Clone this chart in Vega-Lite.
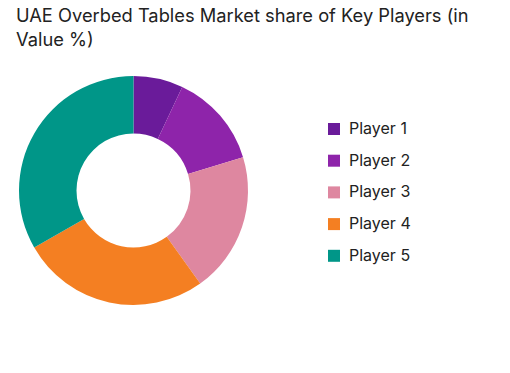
{
  "$schema": "https://vega.github.io/schema/vega-lite/v6.json",
  "autosize": "none",
  "width": 229,
  "height": 229,
  "padding": {"left": 19, "top": 76, "right": 262, "bottom": 68},
  "background": "white",
  "title": {
    "text": ["UAE Overbed Tables Market share of Key Players (in", "Value %)"],
    "anchor": "start",
    "frame": "group",
    "limit": 0,
    "fontSize": 18.3,
    "font": "Inter",
    "fontWeight": "normal",
    "color": "#222222",
    "lineHeight": 24,
    "offset": 26,
    "dx": -3
  },
  "data": {
    "values": [
      {"player": "Player 1", "share": 7},
      {"player": "Player 2", "share": 13.3},
      {"player": "Player 3", "share": 19.8},
      {"player": "Player 4", "share": 26.6},
      {"player": "Player 5", "share": 33.3}
    ]
  },
  "mark": {"type": "arc", "innerRadius": 57, "outerRadius": 114.5},
  "encoding": {
    "theta": {"field": "share", "type": "quantitative", "stack": true},
    "order": {"field": "player", "type": "ordinal"},
    "color": {
      "field": "player",
      "type": "nominal",
      "scale": {
        "domain": ["Player 1", "Player 2", "Player 3", "Player 4", "Player 5"],
        "range": ["#6A1B9A", "#8E24AA", "#DE87A0", "#F47F22", "#009688"]
      },
      "legend": {
        "title": null,
        "orient": "none",
        "legendX": 307,
        "legendY": 45,
        "padding": 0,
        "symbolType": "square",
        "symbolSize": 144,
        "symbolStrokeWidth": 0,
        "labelFontSize": 16,
        "labelFont": "Inter",
        "labelColor": "#222222",
        "labelOffset": 7,
        "rowPadding": 15.7
      }
    }
  },
  "config": {"view": {"stroke": null}}
}
